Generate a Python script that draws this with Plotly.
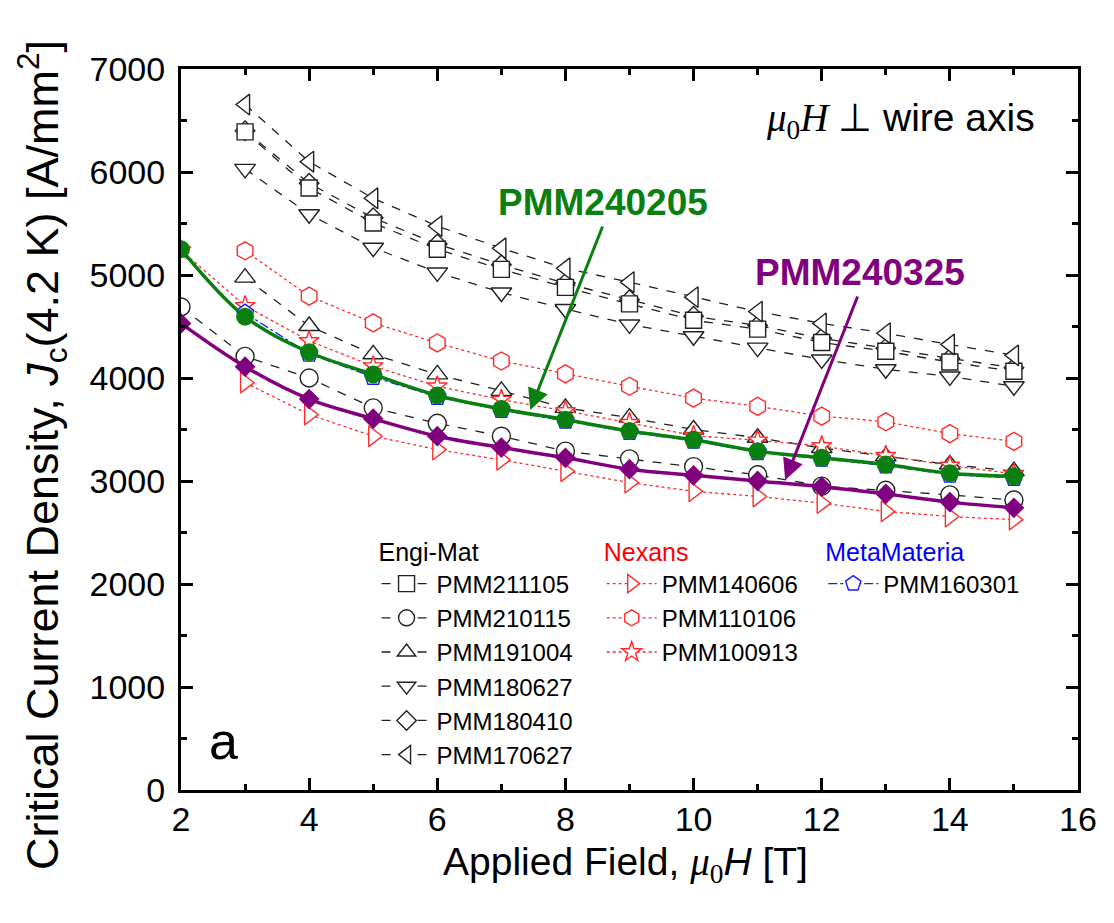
import plotly.graph_objects as go

# ---------------- data ----------------
field_a = [2, 3, 4, 5, 6, 7, 8, 9, 10, 11, 12, 13, 14, 15]
field_b = [3, 4, 5, 6, 7, 8, 9, 10, 11, 12, 13, 14, 15]

pmm211105 = [6390, 5845, 5505, 5250, 5055, 4880, 4720, 4560, 4475, 4345, 4260, 4155, 4065]
pmm210115 = [4690, 4210, 4000, 3710, 3560, 3435, 3290, 3215, 3140, 3060, 2950, 2910, 2865, 2815]
pmm191004 = [4975, 4505, 4230, 4035, 3875, 3710, 3615, 3500, 3420, 3320, 3240, 3160, 3095]
pmm180627 = [6030, 5590, 5265, 5025, 4830, 4670, 4520, 4405, 4295, 4180, 4085, 4015, 3920]
pmm180410 = [6400, 5890, 5555, 5300, 5100, 4920, 4760, 4600, 4510, 4385, 4290, 4190, 4100]
pmm170627 = [6655, 6100, 5745, 5475, 5260, 5065, 4930, 4785, 4645, 4530, 4435, 4325, 4220]

pmm140606 = [3955, 3645, 3435, 3305, 3205, 3095, 2985, 2900, 2850, 2785, 2705, 2655, 2625]
pmm110106 = [5235, 4795, 4535, 4340, 4165, 4040, 3920, 3805, 3725, 3630, 3575, 3460, 3385]
pmm100913 = [5240, 4700, 4360, 4115, 3920, 3790, 3680, 3565, 3440, 3395, 3340, 3245, 3150, 3070]

pmm160301 = [4630, 4235, 4010, 3815, 3690, 3585, 3475, 3390, 3280, 3215, 3150, 3060, 3030]

pmm240205 = [5250, 4595, 4250, 4035, 3830, 3700, 3595, 3485, 3400, 3290, 3225, 3160, 3075, 3045]
pmm240325 = [4530, 4110, 3795, 3605, 3435, 3325, 3225, 3115, 3055, 3000, 2945, 2875, 2795, 2740]

x_ticks = [2, 4, 6, 8, 10, 12, 14, 16]
y_ticks = [0, 1000, 2000, 3000, 4000, 5000, 6000, 7000]

FONT = "Liberation Sans, Arial, sans-serif"
SERIF = "Liberation Serif, Times New Roman, serif"
BLACK = "#222222"
RED = "#ff2a2a"
BLUE = "#1a1aff"
GREEN = "#0a8010"
PURPLE = "#800080"

fig = go.Figure()

def add_open(x, y, name, symbol, color, dash, legend, size=17):
    fig.add_trace(go.Scatter(
        x=x, y=y, name=name, mode="lines+markers", legend=legend,
        line=dict(color=color, width=1.3, dash=dash),
        marker=dict(symbol=symbol, size=size, color="white",
                    line=dict(color=color, width=1.4)),
    ))

# Engi-Mat (black dashed)
add_open(field_b, pmm180410, "PMM180410", "diamond", BLACK, "dash", "legend", 15)
add_open(field_b, pmm211105, "PMM211105", "square", BLACK, "dash", "legend", 16)
add_open(field_a, pmm210115, "PMM210115", "circle", BLACK, "dash", "legend", 18)
add_open(field_b, pmm191004, "PMM191004", "triangle-up", BLACK, "dash", "legend", 18)
add_open(field_b, pmm180627, "PMM180627", "triangle-down", BLACK, "dash", "legend", 18)
add_open(field_b, pmm170627, "PMM170627", "triangle-left", BLACK, "dash", "legend", 18)

# Nexans (red dotted)
add_open(field_b, pmm140606, "PMM140606", "triangle-right", RED, "dot", "legend2", 18)
add_open(field_b, pmm110106, "PMM110106", "hexagon", RED, "dot", "legend2", 18)
add_open(field_a, pmm100913, "PMM100913", "star", RED, "dot", "legend2", 15)

# MetaMateria (blue dash-dot)
add_open(field_b, pmm160301, "PMM160301", "pentagon", BLUE, "dashdot", "legend3", 18)

# Highlighted samples
fig.add_trace(go.Scatter(
    x=field_a, y=pmm240205, name="PMM240205", mode="lines+markers", showlegend=False,
    line=dict(color=GREEN, width=3.5, shape="spline"),
    marker=dict(symbol="circle", size=18, color=GREEN),
))
fig.add_trace(go.Scatter(
    x=field_a, y=pmm240325, name="PMM240325", mode="lines+markers", showlegend=False,
    line=dict(color=PURPLE, width=3.5, shape="spline"),
    marker=dict(symbol="diamond", size=16, color=PURPLE),
))

ranks = {"PMM211105": 1, "PMM210115": 2, "PMM191004": 3, "PMM180627": 4,
         "PMM180410": 5, "PMM170627": 6}
for tr in fig.data:
    if tr.name in ranks:
        tr.legendrank = ranks[tr.name]

axis_common = dict(
    showline=True, linecolor="black", linewidth=3, mirror="ticks",
    ticks="inside", ticklen=12, tickwidth=2.5, tickcolor="black",
    showgrid=False, zeroline=False,
    tickfont=dict(family=FONT, size=34, color="black"),
)

fig.update_xaxes(range=[2, 16], tickvals=x_ticks,
                 minor=dict(dtick=1, ticks="inside", ticklen=6, tickwidth=2.5, tickcolor="black"),
                 ticklabelstandoff=-3,
                 **axis_common)
fig.update_yaxes(range=[0, 7000], tickvals=y_ticks,
                 minor=dict(dtick=500, ticks="inside", ticklen=6, tickwidth=2.5, tickcolor="black"),
                 ticklabelstandoff=6,
                 **axis_common)

leg_common = dict(
    bgcolor="rgba(0,0,0,0)", borderwidth=0, itemwidth=50,
    font=dict(family=FONT, size=24, color="black"),
    xanchor="left", yanchor="top", tracegroupgap=0,
)
fig.update_layout(
    legend=dict(x=0.218, y=0.362,
                title=dict(text="Engi-Mat", side="top",
                           font=dict(family=FONT, size=25, color="black")),
                traceorder="normal", **leg_common),
    legend2=dict(x=0.469, y=0.362,
                 title=dict(text="Nexans", side="top",
                            font=dict(family=FONT, size=25, color="red")),
                 **leg_common),
    legend3=dict(x=0.716, y=0.362,
                 title=dict(text="MetaMateria", side="top",
                            font=dict(family=FONT, size=25, color="blue")),
                 **leg_common),
)

annotations = [
    # axis titles
    dict(xref="paper", yref="paper", x=0.495, y=-0.104, showarrow=False,
         text=f"Applied Field, <span style='font-family:{SERIF}'><i>μ</i><sub>0</sub></span><i>H</i> [T]",
         font=dict(family=FONT, size=39, color="black"), xanchor="center", yanchor="middle"),
    dict(xref="paper", yref="paper", x=-0.155, y=0.4646, showarrow=False, textangle=-90,
         text="Critical Current Density, <i>J</i><sub>c</sub>(4.2 K) [A/mm<sup>2</sup>]",
         font=dict(family=FONT, size=45, color="black"), xanchor="center", yanchor="middle"),
    # condition label
    dict(xref="paper", yref="paper", x=0.954, y=0.928, showarrow=False, xanchor="right",
         yanchor="middle",
         text=f"<span style='font-family:{SERIF}'><i>μ</i><sub>0</sub><i>H</i> ⊥</span> wire axis",
         font=dict(family=FONT, size=39, color="black")),
    # panel letter
    dict(xref="paper", yref="paper", x=0.047, y=0.068, showarrow=False, xanchor="center",
         yanchor="middle", text="a", font=dict(family=FONT, size=52, color="black")),
    # sample labels
    dict(xref="paper", yref="paper", x=0.470, y=0.815, showarrow=False, xanchor="center",
         yanchor="middle", text="<b>PMM240205</b>",
         font=dict(family=FONT, size=37, color=GREEN)),
    dict(xref="paper", yref="paper", x=0.757, y=0.718, showarrow=False, xanchor="center",
         yanchor="middle", text="<b>PMM240325</b>",
         font=dict(family=FONT, size=37, color=PURPLE)),
    # arrows
    dict(x=7.45, y=3690, xref="x", yref="y", ax=73, ay=-185, text="", showarrow=True,
         arrowhead=2, arrowsize=1.4, arrowwidth=3, arrowcolor=GREEN),
    dict(x=11.43, y=3010, xref="x", yref="y", ax=73, ay=-185, text="", showarrow=True,
         arrowhead=2, arrowsize=1.4, arrowwidth=3, arrowcolor=PURPLE),
]

fig.update_layout(
    width=1114, height=923,
    margin=dict(l=181, r=36, t=69, b=133),
    paper_bgcolor="white", plot_bgcolor="white",
    font=dict(family=FONT, color="black"),
    annotations=annotations,
)

fig.write_html("out.html")
